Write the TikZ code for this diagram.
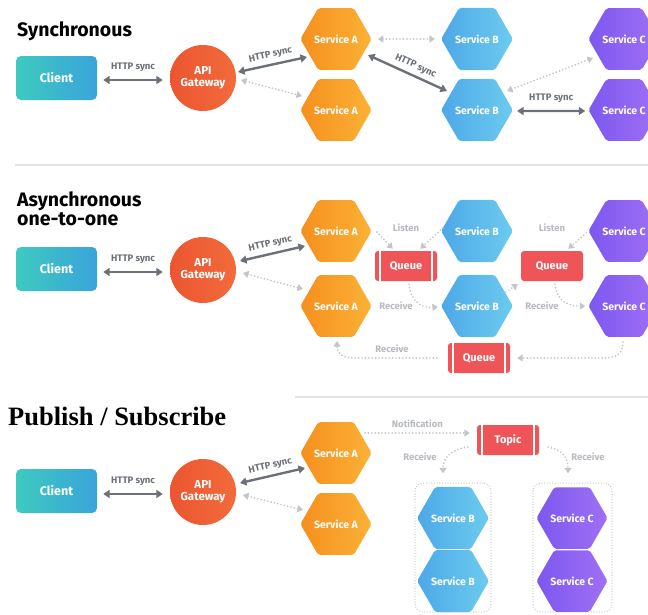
\documentclass[tikz,border=0pt]{standalone}
\usepackage{fontspec}
\setmainfont{Fira Sans}
\newfontfamily\titleserif{Liberation Serif}
\usetikzlibrary{shapes.geometric,arrows.meta,calc}

\definecolor{solidgray}{HTML}{6C7077}
\definecolor{dotgray}{HTML}{C2C5C9}
\definecolor{lightlabel}{HTML}{B7BABF}
\definecolor{sepgray}{HTML}{E2E3E5}
\definecolor{clientL}{HTML}{3DCABF}
\definecolor{clientR}{HTML}{3AA4DB}
\definecolor{gwL}{HTML}{EC5530}
\definecolor{gwR}{HTML}{F26B3B}
\definecolor{aL}{HTML}{F58F1E}
\definecolor{aR}{HTML}{FBB236}
\definecolor{bL}{HTML}{4DA8E8}
\definecolor{bR}{HTML}{6CCBEE}
\definecolor{cL}{HTML}{7C58F0}
\definecolor{cR}{HTML}{A070F4}
\definecolor{queuered}{HTML}{EF5459}

\tikzset{
  sectitle/.style={font=\bfseries\fontsize{19.5}{17}\selectfont, inner sep=0pt, align=left},
  clientbox/.style={rectangle, rounded corners=5pt, minimum width=81pt, minimum height=44pt,
    left color=clientL, right color=clientR, text=white, font=\bfseries\fontsize{12.5}{14}\selectfont},
  gateway/.style={circle, minimum size=66pt, inner sep=0pt, left color=gwL, right color=gwR,
    text=white, align=center, font=\bfseries\fontsize{11.5}{12.5}\selectfont},
  hexbase/.style={regular polygon, regular polygon sides=6, minimum size=70pt, inner sep=0pt,
    rounded corners=2pt, text=white, font=\bfseries\fontsize{10.5}{12}\selectfont},
  smallhex/.style={minimum size=66pt},
  svcA/.style={hexbase, left color=aL, right color=aR},
  svcB/.style={hexbase, left color=bL, right color=bR},
  svcC/.style={hexbase, left color=cL, right color=cR},
  queuebox/.style={rectangle, rounded corners=3pt, minimum width=62pt, minimum height=30pt,
    fill=queuered, text=white, font=\bfseries\fontsize{11}{13}\selectfont},
  barred/.style={path picture={
    \draw[white, line width=1.1pt]
      ([xshift=5pt]path picture bounding box.north west) -- ([xshift=5pt]path picture bounding box.south west)
      ([xshift=-5pt]path picture bounding box.north east) -- ([xshift=-5pt]path picture bounding box.south east);}},
  groupbox/.style={rectangle, rounded corners=8pt, draw=dotgray, line width=1.3pt,
    dash pattern=on 0pt off 2.7pt, line cap=round},
  synclink/.style={draw=solidgray, line width=2.4pt,
    {Triangle[width=8pt,length=6.5pt]}-{Triangle[width=8pt,length=6.5pt]}},
  dotlink/.style={draw=dotgray, line width=1.9pt, dash pattern=on 0pt off 3.4pt, line cap=round},
  dotboth/.style={dotlink, {Triangle[width=7pt,length=5.5pt]}-{Triangle[width=7pt,length=5.5pt]}},
  dotto/.style={dotlink, -{Triangle[width=7pt,length=5.5pt]}},
  synclabel/.style={text=solidgray, font=\bfseries\fontsize{9.5}{11}\selectfont, inner sep=1pt},
  softlabel/.style={text=lightlabel, font=\bfseries\fontsize{9.5}{11}\selectfont, inner sep=1pt},
  sepline/.style={draw=sepgray, line width=2pt}
}

\begin{document}
\begin{tikzpicture}[x=1pt,y=-1pt]
\useasboundingbox (0,0) rectangle (648,614);
\clip (0,0) rectangle (648,614);

% ---------------- Synchronous ----------------
\node[sectitle, anchor=base west] (t1) at (17,36) {Synchronous};
\node[clientbox] (cl1) at (56.5,78) {Client};
\node[gateway] (gw1) at (203,78) {API\\Gateway};
\node[svcA] (a1t) at (336,39) {Service A};
\node[svcA] (a1b) at (336,110) {Service A};
\node[svcB] (b1t) at (477,39) {Service B};
\node[svcB] (b1b) at (477,110) {Service B};
\node[svcC] (c1t) at (624,39) {Service C};
\node[svcC] (c1b) at (624,110) {Service C};

\draw[synclink] ($(cl1.east)+(6,2)$) -- ($(gw1.west)+(-7,2)$)
  node[midway, synclabel, above=6pt] (h1) {HTTP sync};
\draw[synclink] ($(gw1.center)+(35,-6)$) -- ($(a1t.center)+(-29,18)$)
  node[midway, synclabel, sloped, above=3pt] (h2) {HTTP sync};
\draw[dotboth] ($(gw1.center)+(38,2)$) -- ($(a1b.center)+(-34,-14)$);
\draw[dotboth] ($(a1t.east)+(6,0)$) -- ($(b1t.west)+(-6,0)$);
\draw[synclink] ($(a1t.center)+(32,16)$) -- ($(b1b.center)+(-30,-19)$)
  node[pos=0.55, synclabel, sloped, above=3pt] (h3) {HTTP sync};
\draw[dotboth] ($(b1b.center)+(30,-19)$) -- ($(c1t.center)+(-31,19)$);
\draw[synclink] ($(b1b.east)+(4,1)$) -- ($(c1b.west)+(-3,1)$)
  node[midway, synclabel, above=6pt] (h4) {HTTP sync};

\draw[sepline] (15,165) -- (648,165);

% ---------------- Asynchronous one-to-one ----------------
\node[sectitle, anchor=base west] (t2) at (17,225) {Asynchronous\\one-to-one};
\node[clientbox] (cl2) at (56.5,269) {Client};
\node[gateway] (gw2) at (203,270) {API\\Gateway};
\node[svcA] (a2t) at (336,231) {Service A};
\node[svcA] (a2b) at (336,306) {Service A};
\node[svcB] (b2t) at (477,231) {Service B};
\node[svcB] (b2b) at (477,306) {Service B};
\node[svcC] (c2t) at (624,231) {Service C};
\node[svcC] (c2b) at (624,306) {Service C};
\node[queuebox, barred] (q1) at (406,266) {Queue};
\node[queuebox] (q2) at (552,266) {Queue};
\node[queuebox, barred] (q3) at (479,358) {Queue};

\draw[synclink] ($(cl2.east)+(6,3)$) -- ($(gw2.west)+(-7,2)$)
  node[midway, synclabel, above=6pt] (h5) {HTTP sync};
\draw[synclink] ($(gw2.center)+(37,-9)$) -- ($(a2t.center)+(-31,15)$)
  node[midway, synclabel, sloped, above=3pt] (h6) {HTTP sync};
\draw[dotboth] ($(gw2.center)+(40,3)$) -- ($(a2b.center)+(-33,-17)$);

% listeners
\draw[dotto] ($(a2t.east)+(5,1)$) -- ($(q1.north west)+(18,-2)$);
\draw[dotto] ($(b2t.west)+(2,-3)$) -- ($(q1.north east)+(-17,-2)$);
\draw[dotto] ($(c2t.west)+(-2,2)$) -- ($(q2.north east)+(-15,-2)$);
\node[softlabel] (l1) at (406,228) {Listen};
\node[softlabel] (l2) at (552,228) {Listen};

% receivers
\draw[dotto] ($(q1.south)+(3,3)$) .. controls (411,304) and (424,308) .. ($(b2b.west)+(-3,1)$);
\draw[dotto] ($(b2b.center)+(29,-14)$) -- ($(q2.south west)+(-3,3)$);
\draw[dotto] ($(q2.south)+(3,3)$) .. controls (557,303) and (570,306) .. ($(c2b.west)+(-3,0)$);
\draw[dotto] ($(c2b.south)+(-1,5)$) .. controls (623,356) and (615,358) .. (600,358) -- ($(q3.east)+(7,0)$);
\draw[dotto] ($(q3.west)+(-11,0)$) -- (355,358) .. controls (340,358) and (337,352) .. ($(a2b.south)+(1,4)$);
\node[softlabel] (r1) at (396,306) {Receive};
\node[softlabel] (r2) at (542,306) {Receive};
\node[softlabel] (r3) at (392,349) {Receive};

\draw[sepline] (295,397) -- (648,397);

% ---------------- Publish / Subscribe ----------------
\node[anchor=base west, inner sep=0pt, font=\titleserif\bfseries\fontsize{26.5}{30}\selectfont] (t3) at (8,425) {Publish / Subscribe};
\node[clientbox] (cl3) at (56.5,491) {Client};
\node[gateway] (gw3) at (203,492) {API\\Gateway};
\node[svcA] (a3t) at (336,453) {Service A};
\node[svcA] (a3b) at (336,524) {Service A};
\node[queuebox, barred] (tp) at (508,440) {Topic};
\node[groupbox, minimum width=76pt, minimum height=129pt] (gB) at (453,547.5) {};
\node[groupbox, minimum width=79pt, minimum height=129pt] (gC) at (572.5,547.5) {};
\node[svcB, smallhex] (b3t) at (453,518) {Service B};
\node[svcB, smallhex] (b3b) at (453,581) {Service B};
\node[svcC, smallhex] (c3t) at (572,518) {Service C};
\node[svcC, smallhex] (c3b) at (572,581) {Service C};

\draw[synclink] ($(cl3.east)+(6,3)$) -- ($(gw3.west)+(-7,2)$)
  node[midway, synclabel, above=6pt] (h7) {HTTP sync};
\draw[synclink] ($(gw3.center)+(37,-9)$) -- ($(a3t.center)+(-31,15)$)
  node[midway, synclabel, sloped, above=3pt] (h8) {HTTP sync};
\draw[dotboth] ($(gw3.center)+(40,3)$) -- ($(a3b.center)+(-33,-14)$);

\draw[dotto] ($(a3t.center)+(29,-20)$) -- ($(tp.west)+(-7,-7)$)
  node[midway, softlabel, above=3pt] (n1) {Notification};
\draw[dotto] ($(tp.west)+(-9,7)$) .. controls (450,450) and (443,458) .. ($(gB.north)+(-10,-9)$);
\draw[dotto] ($(tp.east)+(9,7)$) .. controls (563,450) and (568,458) .. ($(gC.north)+(-4.5,-9)$);
\node[softlabel] (r4) at (420,457) {Receive};
\node[softlabel] (r5) at (588,457) {Receive};
\end{tikzpicture}
\end{document}
